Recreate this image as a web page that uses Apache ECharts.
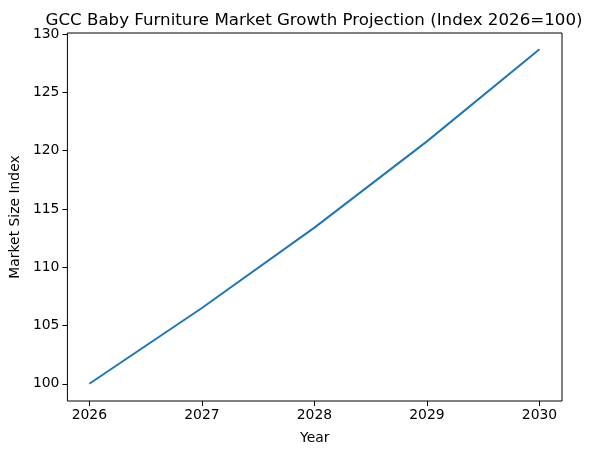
<!DOCTYPE html>
<html>
<head>
<meta charset="utf-8">
<script src="https://cdn.jsdelivr.net/npm/echarts@6/dist/echarts.min.js"></script>
<style>html,body{margin:0;padding:0;background:#fff}#c{width:591px;height:455px}</style>
</head>
<body>
<div id="c"></div>
<script>
const years = [2026, 2027, 2028, 2029, 2030];
const marketIndex = [100, 106.5, 113.4, 120.8, 128.7];
const yTicks = [100, 105, 110, 115, 120, 125, 130];
const titleText = 'GCC Baby Furniture Market Growth Projection (Index 2026=100)';

const chart = echarts.init(document.getElementById('c'), null, {renderer: 'canvas'});
const font = 'DejaVu Sans';
chart.setOption({
  animation: false,
  backgroundColor: '#fff',
  title: {
    text: titleText, left: 309, top: 7, textAlign: 'center',
    textStyle: {fontFamily: font, fontSize: 16.67, fontWeight: 'normal', color: '#000'}
  },
  grid: {left: 66, right: 29, top: 33, bottom: 54, show: true, borderColor: '#000', borderWidth: 1, containLabel: false},
  xAxis: {
    type: 'value', min: 2025.805, max: 2030.2,
    name: 'Year', nameLocation: 'middle', nameGap: 30,
    nameTextStyle: {fontFamily: font, fontSize: 13.9, color: '#000'},
    axisLine: {show: false},
    splitLine: {show: false},
    axisTick: {show: true, length: 5, customValues: years, lineStyle: {color: '#000'}},
    axisLabel: {customValues: years, fontFamily: font, fontSize: 13.9, color: '#000', margin: 7, formatter: v => String(v)}
  },
  yAxis: {
    type: 'value', min: 98.52, max: 130.1,
    name: 'Market Size Index', nameLocation: 'middle', nameGap: 43,
    nameTextStyle: {fontFamily: font, fontSize: 13.9, color: '#000'},
    axisLine: {show: false},
    splitLine: {show: false},
    axisTick: {show: true, length: 5, customValues: yTicks, lineStyle: {color: '#000'}},
    axisLabel: {customValues: yTicks, fontFamily: font, fontSize: 13.9, color: '#000', margin: 8, formatter: v => String(v)}
  },
  series: [{
    type: 'line',
    data: years.map((y, i) => [y, marketIndex[i]]),
    showSymbol: false,
    lineStyle: {color: '#1f77b4', width: 2},
    itemStyle: {color: '#1f77b4'}
  }]
});
</script>
</body>
</html>
